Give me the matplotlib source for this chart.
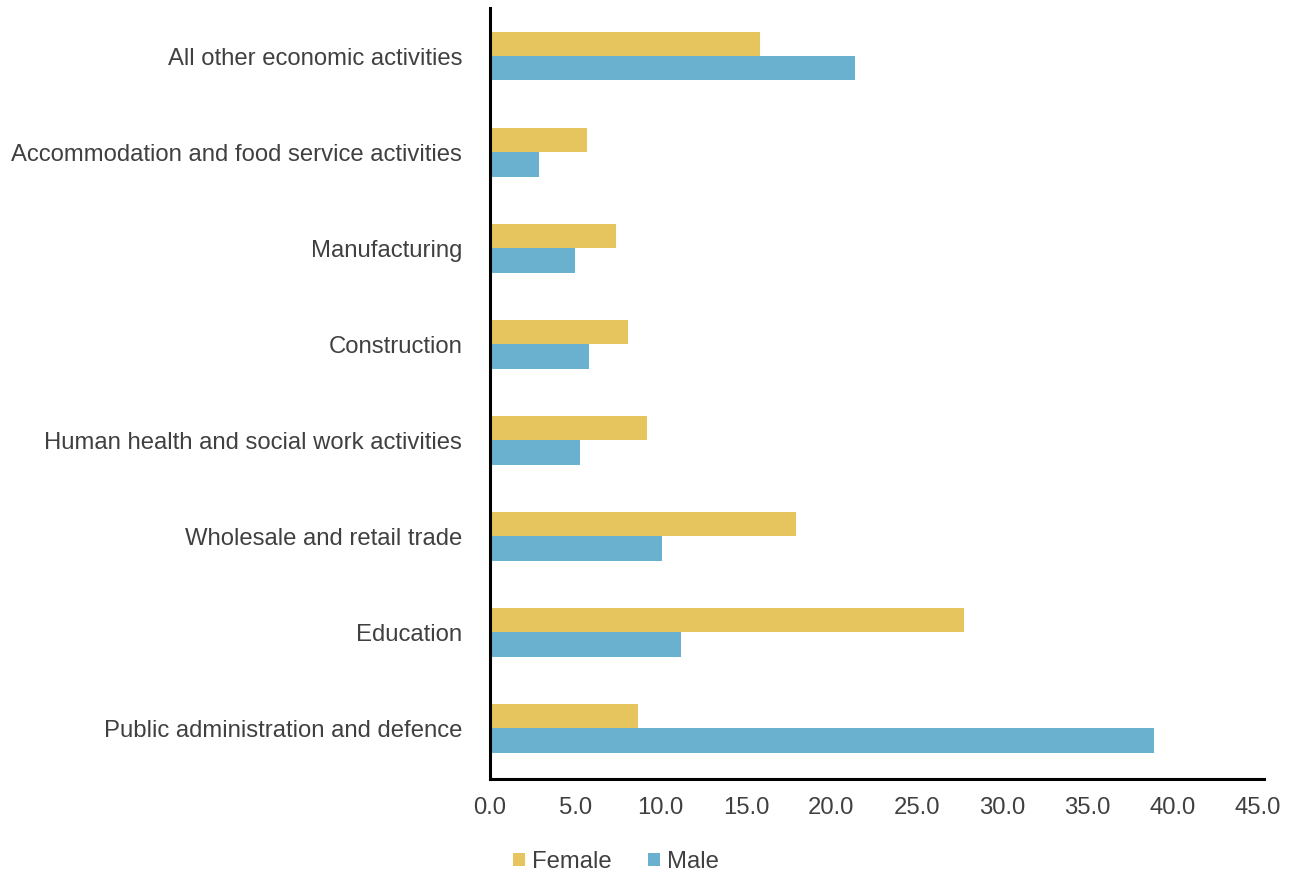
import matplotlib.pyplot as plt
import numpy as np

plt.rcParams['font.family'] = ['Liberation Sans', 'DejaVu Sans']

categories = [
    "Public administration and defence",
    "Education",
    "Wholesale and retail trade",
    "Human health and social work activities",
    "Construction",
    "Manufacturing",
    "Accommodation and food service activities",
    "All other economic activities",
]
female = [8.7, 27.8, 17.9, 9.2, 8.1, 7.4, 5.7, 15.8]
male = [38.9, 11.2, 10.1, 5.3, 5.8, 5.0, 2.9, 21.4]
xticks = np.arange(0, 50, 5)

female_col = "#E6C55E"
male_col = "#6AB1D0"
text_col = "#404040"

fig = plt.figure(figsize=(12.95, 8.74), dpi=100)
ax = fig.add_axes([490 / 1295, 1 - 779 / 874, (1264 - 490) / 1295, (779 - 8) / 874])

y = np.arange(len(categories))
h = 0.255
ax.barh(y + h / 2, female, height=h, color=female_col, label="Female")
ax.barh(y - h / 2, male, height=h, color=male_col, label="Male")

ax.set_xlim(0, 45.35)
ax.set_ylim(-0.53, 7.5)
ax.set_xticks(xticks)
ax.set_xticklabels([f"{v:.1f}" for v in xticks])
ax.set_yticks(y)
ax.set_yticklabels(categories)
ax.tick_params(axis='both', length=0, labelsize=17.2, labelcolor=text_col)
ax.tick_params(axis='y', pad=20)
ax.tick_params(axis='x', pad=13)

for s in ['top', 'right']:
    ax.spines[s].set_visible(False)
for s in ['left', 'bottom']:
    ax.spines[s].set_linewidth(2.2)
    ax.spines[s].set_color('black')

leg = fig.legend(loc='center', bbox_to_anchor=(616 / 1295, 1 - 862 / 874), ncol=2,
                 frameon=False, fontsize=17.2, handlelength=0.5, handleheight=0.5,
                 handletextpad=0.3, columnspacing=1.5)
for t in leg.get_texts():
    t.set_color(text_col)

fig.savefig("out.png", dpi=100)
